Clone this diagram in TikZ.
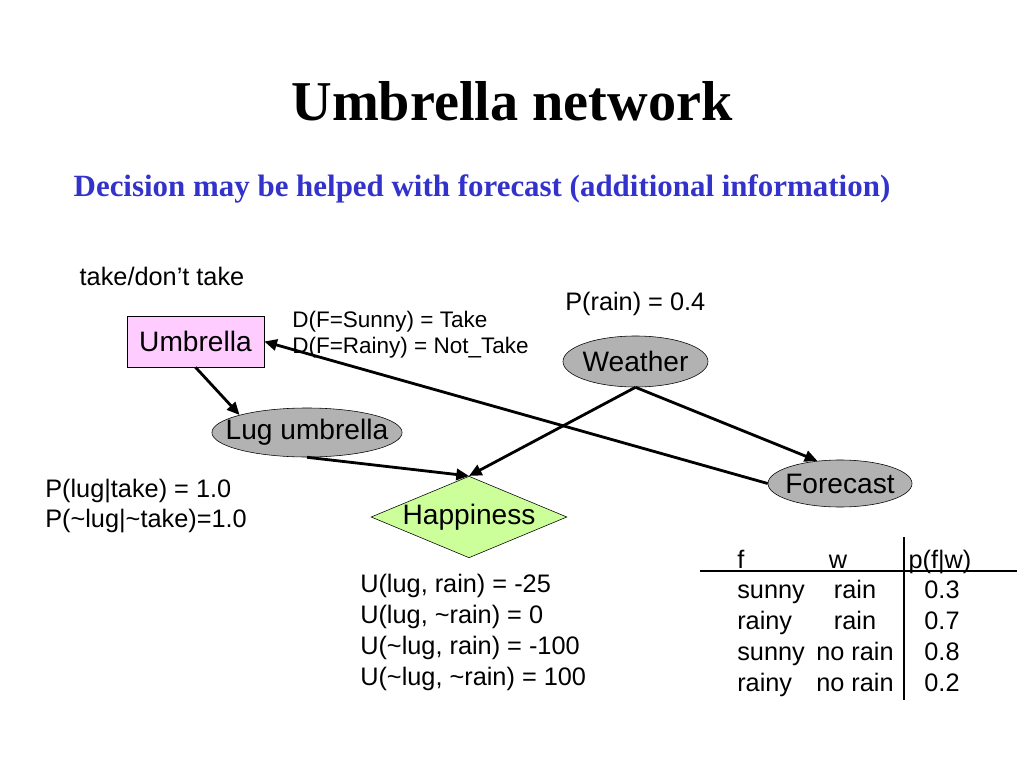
\documentclass[tikz,border=0pt]{standalone}
\usepackage{xcolor}
\usepackage{fontspec}
\setmainfont{Liberation Sans}
\newfontfamily\titlefont{Liberation Serif}
\usetikzlibrary{shapes.geometric, arrows.meta, positioning}
\definecolor{umbpink}{HTML}{FFCCFF}
\definecolor{happygreen}{HTML}{CCFF99}
\definecolor{subblue}{HTML}{3333CC}
\newcommand\nodefont{\fontsize{20}{24}\selectfont}
\tikzset{
    decisionbox/.style={rectangle, draw, fill=umbpink, minimum width=3.425cm, minimum height=1.275cm, font=\nodefont},
    chance/.style={ellipse, draw, fill=black!30, inner xsep=-10pt, inner ysep=0pt, font=\nodefont},
    utility/.style={diamond, draw, fill=happygreen, aspect=2.4, inner sep=0pt, minimum width=4.7cm, minimum height=1.95cm, font=\nodefont},
    arrow/.style={-{Triangle[length=9pt, width=8pt]}, line width=2pt},
    txt/.style={anchor=base west, inner sep=0pt, font=\fontsize{18}{21}\selectfont},
    smalltxt/.style={txt, font=\fontsize{16}{19}\selectfont},
    cell/.style={anchor=base, inner sep=0pt, font=\fontsize{18}{21}\selectfont}
}

\begin{document}
\begin{tikzpicture}[x=0.025cm, y=-0.025cm]
    \useasboundingbox (0,0) rectangle (1024,768);
    % title
    \node (title) [anchor=base, inner sep=0pt, font=\titlefont\bfseries\fontsize{40}{46}\selectfont] at (512,121) {Umbrella network};
    \node (subtitle) [anchor=base, inner sep=0pt, text=subblue, font=\titlefont\bfseries\fontsize{22}{26}\selectfont] at (482,196) {Decision may be helped with forecast (additional information)};

    % network
    \node (umbrella) [decisionbox] at (195.5,341.5) {Umbrella};
    \node (lug) [chance, minimum width=4.75cm, minimum height=1.225cm] at (307,432.5) {Lug umbrella};
    \node (weather) [chance, minimum width=3.625cm, minimum height=1.275cm] at (635.5,361.5) {Weather};
    \node (forecast) [chance, minimum width=3.6cm, minimum height=1.175cm] at (840,483.5) {Forecast};
    \node (happy) [utility] at (469,517) {Happiness};

    \draw[arrow] (umbrella.south) -- (lug.north west);
    \draw[arrow] (lug.south) -- (happy.north);
    \draw[arrow] (weather.south) -- (happy.north);
    \draw[arrow] (weather.south) -- (forecast.135);
    \draw[arrow] (forecast.west) -- (umbrella.east);

    % annotations
    \node (choices) [cell] at (162,285) {take/don't take};
    \node (policy1) [smalltxt] at (292,327) {D(F=Sunny) = Take};
    \node (policy2) [smalltxt] at (292,353) {D(F=Rainy) = Not\_Take};
    \node (prior) [txt] at (565,310) {P(rain) = 0.4};
    \node (lugp1) [txt] at (45,497) {P(lug|take) = 1.0};
    \node (lugp2) [txt] at (45,527) {P(\textasciitilde lug|\textasciitilde take)=1.0};
    \node (util1) [txt] at (360,592) {U(lug, rain) = -25};
    \node (util2) [txt] at (360,623) {U(lug, \textasciitilde rain) = 0};
    \node (util3) [txt] at (360,654) {U(\textasciitilde lug, rain) = -100};
    \node (util4) [txt] at (360,685) {U(\textasciitilde lug, \textasciitilde rain) = 100};

    % forecast table
    \draw[line width=1pt] (700,571) -- (1017,571);
    \draw[line width=1pt] (904,537) -- (904,700);
    \node (hf) [txt] at (737,568) {f};
    \node (hw) [cell] at (838,568) {w};
    \node (hp) [cell] at (940,568) {p(f|w)};
    \foreach \f/\w/\p [count=\i] in {sunny/rain/0.3, rainy/rain/0.7, sunny/no rain/0.8, rainy/no rain/0.2} {
        \node (f\i) [txt] at (737,567+31*\i) {\f};
        \node (w\i) [cell] at (855,567+31*\i) {\w};
        \node (p\i) [cell] at (942,567+31*\i) {\p};
    }
\end{tikzpicture}
\end{document}
